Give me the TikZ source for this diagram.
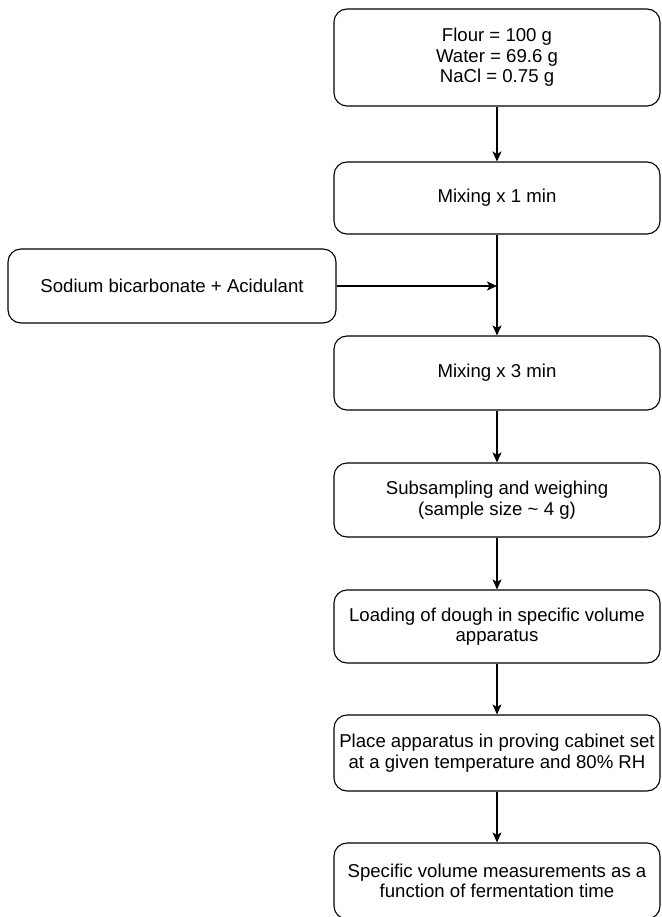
\documentclass[tikz,border=0pt]{standalone}
\usepackage{fontspec}
\setmainfont{Liberation Sans}
\usetikzlibrary{arrows.meta}
\begin{document}
\begin{tikzpicture}[x=1pt,y=-1pt,
  box/.style={draw=black,line width=1.1pt,rounded corners=13pt,minimum width=326pt,
    align=center,inner sep=2pt,font=\fontsize{18.6}{20.5}\selectfont},
  arr/.style={line width=1.7pt,-{Stealth[length=10pt,width=9pt,inset=2.5pt]}}]
\useasboundingbox (0,0) rectangle (661,917);
\node[box,minimum height=97pt] (b1) at (497,57.5) {Flour = 100 g\\Water = 69.6 g\\NaCl = 0.75 g};
\node[box,minimum height=72pt] (b2) at (497,198) {Mixing x 1 min};
\node[box,minimum height=74pt,minimum width=328pt] (s) at (172,286) {Sodium bicarbonate + Acidulant};
\node[box,minimum height=74pt] (b3) at (497,373) {Mixing x 3 min};
\node[box,minimum height=74pt] (b4) at (497,500) {Subsampling and weighing\\(sample size \textasciitilde{} 4 g)};
\node[box,minimum height=73pt] (b5) at (497,626.5) {Loading of dough in specific volume\\apparatus};
\node[box,minimum height=76pt] (b6) at (497,753) {Place apparatus in proving cabinet set\\at a given temperature and 80\% RH};
\node[box,minimum height=76pt] (b7) at (497,881) {Specific volume measurements as a\\function of fermentation time};
\coordinate (j) at (s.east -| b2.south);
\draw[arr] (b1.south) -- (b2.north);
\draw[arr] (b2.south) -- (b3.north);
\draw[arr] (s.east) -- (j);
\draw[arr] (b3.south) -- (b4.north);
\draw[arr] (b4.south) -- (b5.north);
\draw[arr] (b5.south) -- (b6.north);
\draw[arr] (b6.south) -- (b7.north);
\end{tikzpicture}
\end{document}
